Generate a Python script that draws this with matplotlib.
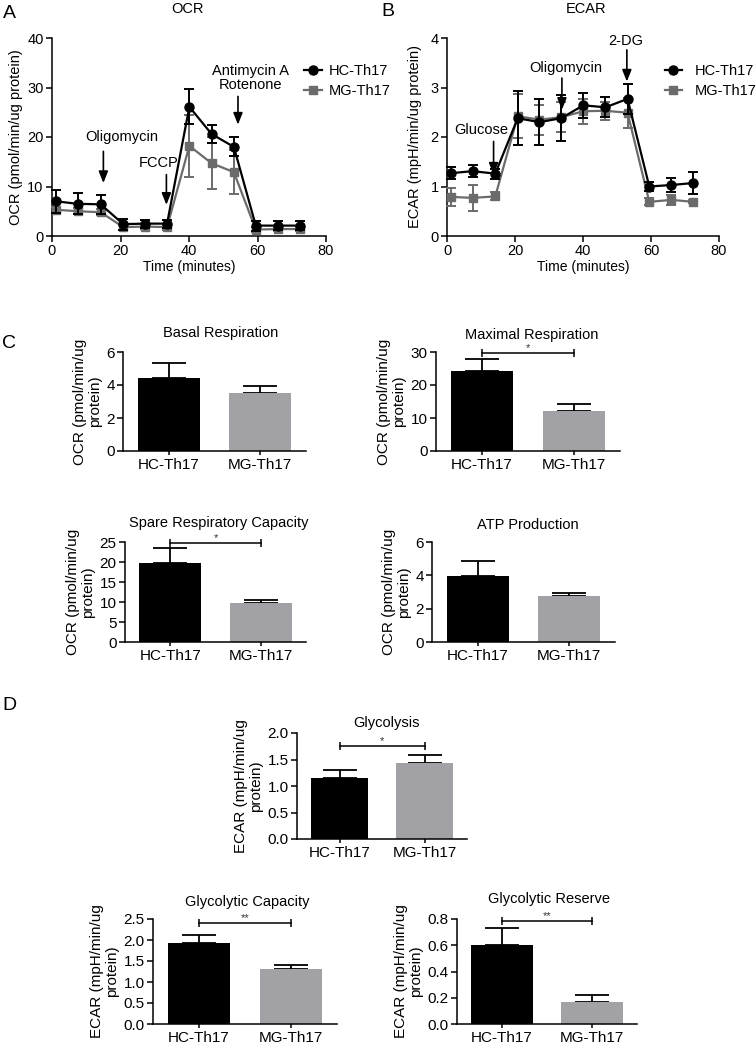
import matplotlib
matplotlib.use("Agg")
import matplotlib.pyplot as plt
from matplotlib.lines import Line2D
import numpy as np

plt.rcParams['font.family'] = ['Liberation Sans', 'DejaVu Sans']

# ---------------- data ----------------
time_min = [1.3, 7.5, 14.2, 20.8, 27.2, 33.6, 40.1, 46.6, 53.1, 59.5, 66.0, 72.4]
ocr_hc = [7.0, 6.5, 6.4, 2.4, 2.5, 2.5, 26.1, 20.6, 18.0, 2.1, 2.1, 2.1]
ocr_hc_err = [2.3, 2.1, 1.9, 1.1, 0.8, 0.8, 3.5, 1.9, 1.9, 1.0, 0.9, 0.9]
ocr_mg = [5.3, 5.0, 4.8, 1.8, 1.9, 1.8, 18.2, 14.7, 12.9, 1.3, 1.4, 1.4]
ocr_mg_err = [0.6, 0.6, 0.6, 0.5, 0.5, 0.5, 6.2, 5.3, 4.5, 0.5, 0.4, 0.4]

ecar_hc = [1.27, 1.31, 1.26, 2.38, 2.30, 2.38, 2.64, 2.60, 2.77, 1.00, 1.03, 1.07]
ecar_hc_err = [0.12, 0.12, 0.10, 0.54, 0.46, 0.46, 0.25, 0.20, 0.31, 0.10, 0.15, 0.22]
ecar_mg = [0.79, 0.77, 0.80, 2.42, 2.35, 2.40, 2.52, 2.53, 2.49, 0.69, 0.73, 0.69]
ecar_mg_err = [0.18, 0.27, 0.08, 0.45, 0.30, 0.30, 0.25, 0.18, 0.30, 0.07, 0.10, 0.03]

groups = ['HC-Th17', 'MG-Th17']

basal = [4.45, 3.53]
basal_err = [0.89, 0.40]
maximal = [24.3, 12.2]
maximal_err = [3.7, 1.9]
spare = [19.8, 9.75]
spare_err = [3.7, 0.85]
atp = [3.94, 2.76]
atp_err = [0.92, 0.20]
glycolysis = [1.145, 1.43]
glycolysis_err = [0.15, 0.155]
glyco_cap = [1.92, 1.31]
glyco_cap_err = [0.21, 0.10]
glyco_res = [0.60, 0.165]
glyco_res_err = [0.13, 0.053]

# ---------------- figure ----------------
W, H = 756, 1044
fig = plt.figure(figsize=(W / 100, H / 100), dpi=100)

BLACK = '#000000'
LINE_GRAY = '#6b6b6b'
BAR_GRAY = '#a2a2a6'


def px_axes(l, t, r, b):
    return fig.add_axes([l / W, 1 - b / H, (r - l) / W, (b - t) / H])


def style(ax, fs=10.5):
    for s in ['top', 'right']:
        ax.spines[s].set_visible(False)
    for s in ['left', 'bottom']:
        ax.spines[s].set_linewidth(1.1)
    ax.tick_params(direction='out', length=4, width=1.1, labelsize=fs, pad=2)


def ftext(x, y, s, size=10, **kw):
    fig.text(x / W, 1 - y / H, s, fontsize=size, ha='center', va='center', **kw)


def arrow(ax, x, y0, y1):
    ax.annotate('', xy=(x, y1), xytext=(x, y0),
                arrowprops=dict(arrowstyle='-|>,head_length=0.7,head_width=0.28',
                                color='k', lw=1.2, shrinkA=0, shrinkB=0),
                annotation_clip=False)


def legend_handles():
    return [Line2D([], [], color=BLACK, marker='o', ms=6.5, lw=1.6),
            Line2D([], [], color=LINE_GRAY, marker='s', ms=6, lw=1.6)]


# ---------- Panel A ----------
axA = px_axes(52, 38, 326, 236)
style(axA)
axA.errorbar(time_min, ocr_mg, yerr=ocr_mg_err, color=LINE_GRAY, marker='s', ms=6,
             lw=1.6, elinewidth=1.4, capsize=3.5, capthick=1.4,
             clip_on=False, zorder=3)
axA.errorbar(time_min, ocr_hc, yerr=ocr_hc_err, color=BLACK, marker='o', ms=6.5,
             lw=1.6, elinewidth=1.4, capsize=3.5, capthick=1.4,
             clip_on=False, zorder=4)
axA.set_xlim(0, 80)
axA.set_ylim(0, 40)
axA.set_xticks([0, 20, 40, 60, 80])
axA.set_yticks([0, 10, 20, 30, 40])
axA.set_xlabel('Time (minutes)', fontsize=10, labelpad=1)
axA.set_ylabel('OCR (pmol/min/ug protein)', fontsize=10.5, labelpad=3)
axA.text(20.3, 20.1, 'Oligomycin', fontsize=10.5, ha='center', va='center')
arrow(axA, 15.0, 17.1, 10.7)
axA.text(31.0, 14.7, 'FCCP', fontsize=10.5, ha='center', va='center')
arrow(axA, 33.4, 12.4, 6.3)
axA.text(58.0, 31.9, 'Antimycin A\nRotenone', fontsize=10.5, ha='center', va='center',
         linespacing=1.05)
arrow(axA, 54.3, 28.2, 22.5)
axA.legend(legend_handles(), groups, loc='upper left', bbox_to_anchor=(0.92, 0.87),
           frameon=False, fontsize=10.5, handlelength=1.2, handletextpad=0.5,
           borderpad=0, borderaxespad=0, labelspacing=0.45)
ftext(188, 9, 'OCR', 10.5)
ftext(9, 13, 'A', 14)

# ---------- Panel B ----------
axB = px_axes(447, 38, 719, 236)
style(axB)
axB.errorbar(time_min, ecar_mg, yerr=ecar_mg_err, color=LINE_GRAY, marker='s', ms=6,
             lw=1.6, elinewidth=1.4, capsize=3.5, capthick=1.4,
             clip_on=False, zorder=3)
axB.errorbar(time_min, ecar_hc, yerr=ecar_hc_err, color=BLACK, marker='o', ms=6.5,
             lw=1.6, elinewidth=1.4, capsize=3.5, capthick=1.4,
             clip_on=False, zorder=4)
axB.set_xlim(0, 80)
axB.set_ylim(0, 4)
axB.set_xticks([0, 20, 40, 60, 80])
axB.set_yticks([0, 1, 2, 3, 4])
axB.set_xlabel('Time (minutes)', fontsize=10, labelpad=1)
axB.set_ylabel('ECAR (mpH/min/ug protein)', fontsize=10.5, labelpad=6)
axB.text(10.0, 2.15, 'Glucose', fontsize=10.5, ha='center', va='center')
arrow(axB, 13.7, 1.91, 1.24)
axB.text(34.9, 3.39, 'Oligomycin', fontsize=10.5, ha='center', va='center')
arrow(axB, 33.8, 3.19, 2.55)
axB.text(52.7, 3.93, '2-DG', fontsize=10.5, ha='center', va='center')
arrow(axB, 52.9, 3.76, 3.12)
axB.legend(legend_handles(), groups, loc='upper left', bbox_to_anchor=(0.80, 0.87),
           frameon=False, fontsize=10.5, handlelength=1.2, handletextpad=0.9,
           borderpad=0, borderaxespad=0, labelspacing=0.45)
ftext(586, 9, 'ECAR', 10.5)
ftext(388, 12, 'B', 14)


# ---------- bar helper ----------
def bar_panel(box, vals, errs, ylim, yticks, ylabel, title, title_xy, sig=None,
              fmt=None):
    ax = px_axes(*box)
    style(ax, fs=11)
    x = np.arange(len(groups))
    ax.bar(x, vals, width=0.68, color=[BLACK, BAR_GRAY], zorder=2)
    ax.errorbar(x, vals, yerr=[[0, 0], errs], fmt='none', ecolor='k', elinewidth=1.3,
                capsize=12, capthick=1.3, zorder=1, clip_on=False)
    ax.set_xlim(-0.5, 1.5)
    ax.set_ylim(*ylim)
    ax.set_yticks(yticks)
    if fmt:
        ax.set_yticklabels([fmt.format(v) for v in yticks])
    ax.set_xticks(x)
    ax.set_xticklabels(groups)
    ax.tick_params(axis='x', length=3)
    ax.set_ylabel(ylabel, fontsize=11, labelpad=3, linespacing=1.1)
    ftext(title_xy[0], title_xy[1], title, 10.5)
    if sig is not None:
        ys, stars = sig
        ax.plot([0, 1], [ys, ys], color='k', lw=1.1, marker='|', ms=6, mew=1.1,
                clip_on=False, zorder=3)
        ax.text(0.5, ys, stars, ha='center', va='bottom', fontsize=8, color='#333333')
    return ax


ocr_lab = 'OCR (pmol/min/ug\nprotein)'
ecar_lab = 'ECAR (mpH/min/ug\nprotein)'

bar_panel((123, 352, 306, 451), basal, basal_err, (0, 6), [0, 2, 4, 6], ocr_lab,
          'Basal Respiration', (221, 333))
bar_panel((436, 352, 620, 451), maximal, maximal_err, (0, 30), [0, 10, 20, 30], ocr_lab,
          'Maximal Respiration', (532, 335), sig=(29.7, '*'))
bar_panel((125, 542, 306, 642), spare, spare_err, (0, 25), [0, 5, 10, 15, 20, 25], ocr_lab,
          'Spare Respiratory Capacity', (219, 523), sig=(24.75, '*'))
bar_panel((432, 542, 615, 642), atp, atp_err, (0, 6), [0, 2, 4, 6], ocr_lab,
          'ATP Production', (528, 525))
bar_panel((297, 733, 467, 839), glycolysis, glycolysis_err, (0, 2.0),
          [0, 0.5, 1.0, 1.5, 2.0], ecar_lab, 'Glycolysis', (387, 723),
          sig=(1.76, '*'), fmt='{:.1f}')
bar_panel((153, 919, 337, 1024), glyco_cap, glyco_cap_err, (0, 2.5),
          [0, 0.5, 1.0, 1.5, 2.0, 2.5], ecar_lab, 'Glycolytic Capacity', (247, 902),
          sig=(2.41, '**'), fmt='{:.1f}')
bar_panel((457, 919, 637, 1024), glyco_res, glyco_res_err, (0, 0.8),
          [0, 0.2, 0.4, 0.6, 0.8], ecar_lab, 'Glycolytic Reserve', (549, 899),
          sig=(0.787, '**'), fmt='{:.1f}')

ftext(9, 343, 'C', 14)
ftext(9, 705, 'D', 14)

fig.savefig('out.png', dpi=100)
